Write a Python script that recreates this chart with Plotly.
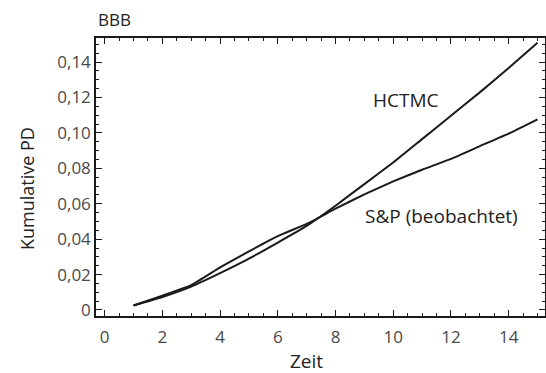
import plotly.graph_objects as go

zeit = [1, 2, 3, 4, 5, 6, 7, 8, 9, 10, 11, 12, 13, 14, 15]
hctmc = [0.0025, 0.0073, 0.0132, 0.0208, 0.0290, 0.0381, 0.0475, 0.0589, 0.0711, 0.0833, 0.0965, 0.1097, 0.1229, 0.1367, 0.1509]
sp_beob = [0.0025, 0.0081, 0.0140, 0.0240, 0.0331, 0.0417, 0.0486, 0.0572, 0.0653, 0.0726, 0.0792, 0.0853, 0.0925, 0.0996, 0.1077]

x_ticks = [0, 2, 4, 6, 8, 10, 12, 14]
y_ticks = [0, 0.02, 0.04, 0.06, 0.08, 0.10, 0.12, 0.14]
y_ticktext = ["0", "0,02", "0,04", "0,06", "0,08", "0,10", "0,12", "0,14"]

FONT = "Open Sans"
INK = "#1a1a1a"
GRAY = "#4a4a4a"
TXT = "#222222"

W, H = 546, 373
L, R, T, B = 96, 1, 38, 57
PW = W - L - R
PH = H - T - B


def px_x(p):
    return (p - L) / PW


def px_y(p):
    return (H - B - p) / PH


fig = go.Figure()
fig.add_trace(go.Scatter(x=zeit, y=hctmc, mode="lines", line=dict(color=INK, width=2, shape="spline", smoothing=0.4), name="HCTMC"))
fig.add_trace(go.Scatter(x=zeit, y=sp_beob, mode="lines", line=dict(color=INK, width=2, shape="spline", smoothing=0.4), name="S&P (beobachtet)"))

axis_common = dict(
    showline=True, linecolor=INK, linewidth=1.5, mirror="ticks",
    ticks="inside", tickcolor=INK, tickwidth=1.2,
    showgrid=False, zeroline=False,
    tickfont=dict(family=FONT, size=17, color=GRAY),
)

fig.update_xaxes(
    range=[-0.30, 15.26], tickvals=x_ticks, ticklen=6, ticklabelstandoff=5,
    minor=dict(ticks="inside", dtick=0.5, ticklen=3, tickcolor=INK, tickwidth=1.2),
    **axis_common,
)
fig.update_yaxes(
    range=[-0.0034, 0.1536], tickvals=y_ticks, ticktext=y_ticktext, ticklen=6,
    minor=dict(ticks="inside", dtick=0.005, ticklen=3.5, tickcolor=INK, tickwidth=1.2),
    **axis_common,
)

annotations = [
    dict(x=10.44, xref="x", y=0.1186, yref="y", text="HCTMC", showarrow=False,
         font=dict(family=FONT, size=19, color=TXT)),
    dict(x=11.69, xref="x", y=0.0531, yref="y", text="S&P (beobachtet)", showarrow=False,
         font=dict(family=FONT, size=19, color=TXT)),
    dict(x=7.0, xref="x", y=px_y(361), yref="paper", text="Zeit", showarrow=False,
         yanchor="middle", font=dict(family=FONT, size=19, color=TXT)),
    dict(x=px_x(27), xref="paper", y=0.0683, yref="y", text="Kumulative PD", showarrow=False,
         textangle=-90, xanchor="center", yanchor="middle",
         font=dict(family=FONT, size=18, color=TXT)),
    dict(x=px_x(96), xref="paper", y=px_y(20), yref="paper", text="BBB", showarrow=False,
         xanchor="left", yanchor="middle", font=dict(family=FONT, size=17, color=TXT)),
]

fig.update_layout(
    width=W, height=H,
    margin=dict(l=L, r=R, t=T, b=B, autoexpand=False),
    paper_bgcolor="white", plot_bgcolor="white",
    showlegend=False,
    annotations=annotations,
)

fig.write_html(
    "out.html",
    config={"displayModeBar": False},
    post_script="document.body.style.margin='0';document.body.style.overflow='hidden';",
)
